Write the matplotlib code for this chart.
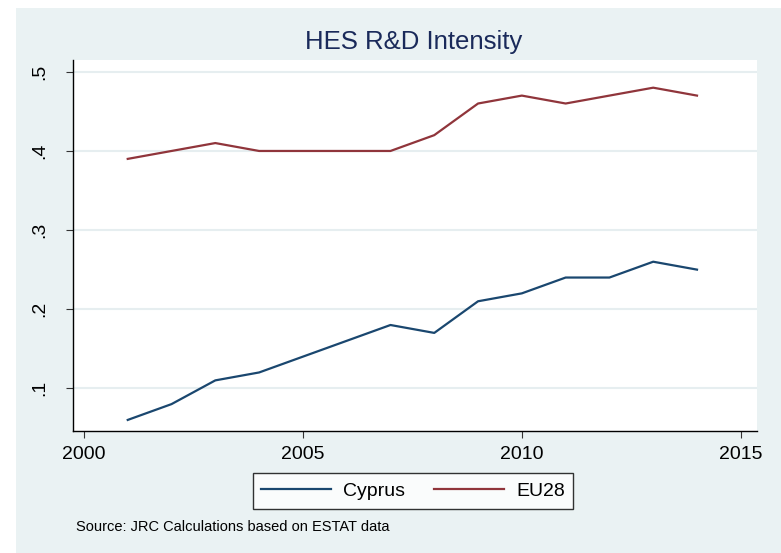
import numpy as np
import matplotlib
matplotlib.use("Agg")
import matplotlib.pyplot as plt
from matplotlib.patches import Rectangle

plt.rcParams['font.family'] = ['Liberation Sans', 'DejaVu Sans']

years = [2001, 2002, 2003, 2004, 2005, 2006, 2007, 2008, 2009, 2010, 2011, 2012, 2013, 2014]
cyprus = [0.06, 0.08, 0.11, 0.12, 0.14, 0.16, 0.18, 0.17, 0.21, 0.22, 0.24, 0.24, 0.26, 0.25]
eu28 = [0.39, 0.40, 0.41, 0.40, 0.40, 0.40, 0.40, 0.42, 0.46, 0.47, 0.46, 0.47, 0.48, 0.47]

xticks = [2000, 2005, 2010, 2015]
yticks = [0.1, 0.2, 0.3, 0.4, 0.5]
ylabels = ['.1', '.2', '.3', '.4', '.5']

bg = '#eaf2f3'
W, H = 781, 553

fig = plt.figure(figsize=(7.81, 5.53), dpi=100)
fig.patch.set_facecolor('white')
fig.patches.append(Rectangle((16 / W, 0), 1 - 16 / W, 1 - 8 / H,
                             transform=fig.transFigure, facecolor=bg,
                             edgecolor='none', zorder=-10))

ax = fig.add_axes([73 / W, 1 - 431 / H, (757 - 73) / W, (431 - 60) / H])
ax.set_facecolor('white')

ax.plot(years, cyprus, color='#1a476f', lw=1.6, label='Cyprus')
ax.plot(years, eu28, color='#90353b', lw=1.6, label='EU28')

ax.set_xlim(1999.75, 2015.37)
ax.set_ylim(0.046, 0.515)
ax.set_xticks(xticks)
ax.set_yticks(yticks)
ax.set_yticklabels(ylabels, rotation=90, va='center')
ax.grid(axis='y', color='#e6eef0', lw=1.5)
ax.set_axisbelow(True)

for s in ['top', 'right']:
    ax.spines[s].set_visible(False)
for s in ['left', 'bottom']:
    ax.spines[s].set_color('black')
    ax.spines[s].set_linewidth(1.0)
ax.tick_params(axis='both', length=5, color='#333333', labelsize=14)
ax.tick_params(axis='x', pad=6)
ax.tick_params(axis='y', pad=13)

fig.text(414 / W, 1 - 42 / H, 'HES R&D Intensity', ha='center', va='center',
         fontsize=18.5, color='#1a2a5a')

leg = fig.legend(loc='center', bbox_to_anchor=(413 / W, 1 - 491 / H), ncol=2,
                 fontsize=14, frameon=True, fancybox=False, edgecolor='black',
                 handlelength=3.6, handletextpad=0.6, columnspacing=1.5,
                 borderpad=0.45)
leg.get_frame().set_linewidth(1.0)

fig.text(76 / W, 1 - 527 / H, 'Source: JRC Calculations based on ESTAT data',
         ha='left', va='center', fontsize=10.5, color='black')

fig.savefig('out.png', dpi=100)
